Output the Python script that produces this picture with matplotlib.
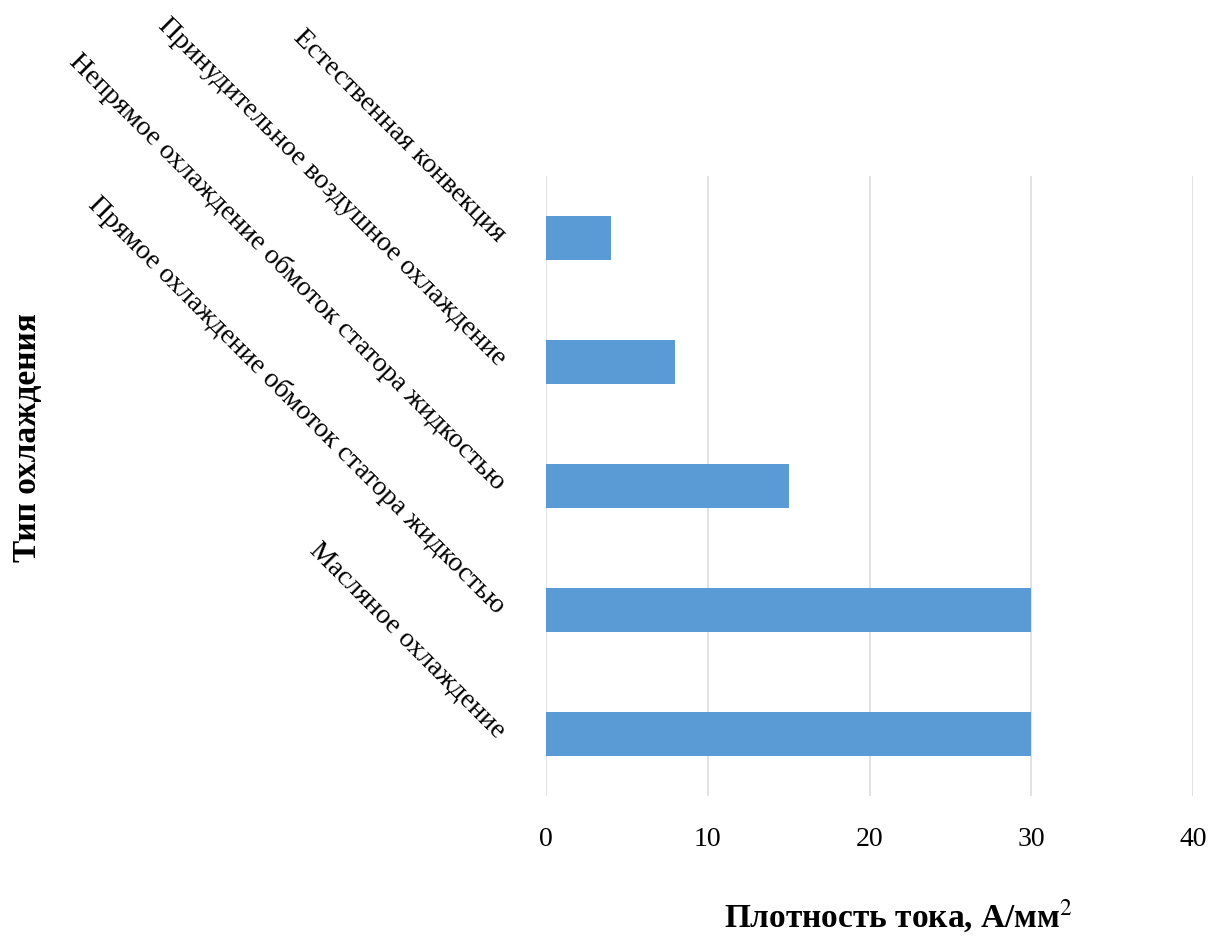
import matplotlib
matplotlib.use("Agg")
import matplotlib.pyplot as plt

categories = [
    "Естественная конвекция",
    "Принудительное воздушное охлаждение",
    "Непрямое охлаждение обмоток статора жидкостью",
    "Прямое охлаждение обмоток статора жидкостью",
    "Масляное охлаждение",
]
values = [4, 8, 15, 30, 30]
xticks = [0, 10, 20, 30, 40]

plt.rcParams['font.family'] = ['Liberation Serif', 'DejaVu Serif']
plt.rcParams['mathtext.fontset'] = 'stix'

fig = plt.figure(figsize=(12.11, 9.36), dpi=100)
ax = fig.add_axes([546/1211, 1-796/936, (1193-546)/1211, (796-176)/936])

ypos = list(range(len(categories)))
ax.barh(ypos, values, height=0.36, color='#5B9BD5', zorder=3)
ax.set_ylim(len(categories)-0.5, -0.5)
ax.set_xlim(0, 40)
ax.set_xticks(xticks)
ax.set_xticklabels([str(t) for t in xticks], fontsize=20)
ax.xaxis.grid(True, color='#DDDDDD', linewidth=1.2, zorder=0)
ax.set_axisbelow(True)
for s in ax.spines.values():
    s.set_visible(False)
ax.tick_params(axis='x', length=0, pad=22)
ax.tick_params(axis='y', length=0, pad=32)
ax.set_yticks(ypos)
ax.set_yticklabels(categories, fontsize=20, rotation=-45, ha='right', va='center',
                   rotation_mode='anchor')

fig.text(28/1211, 1-438/936, "Тип охлаждения", rotation=90, fontsize=24,
         fontweight='bold', ha='center', va='center')
fig.text(898/1211, 1-916/936, "Плотность тока, А/мм$^{2}$", fontsize=24,
         fontweight='bold', ha='center', va='center')

fig.savefig("out.png", dpi=100)
